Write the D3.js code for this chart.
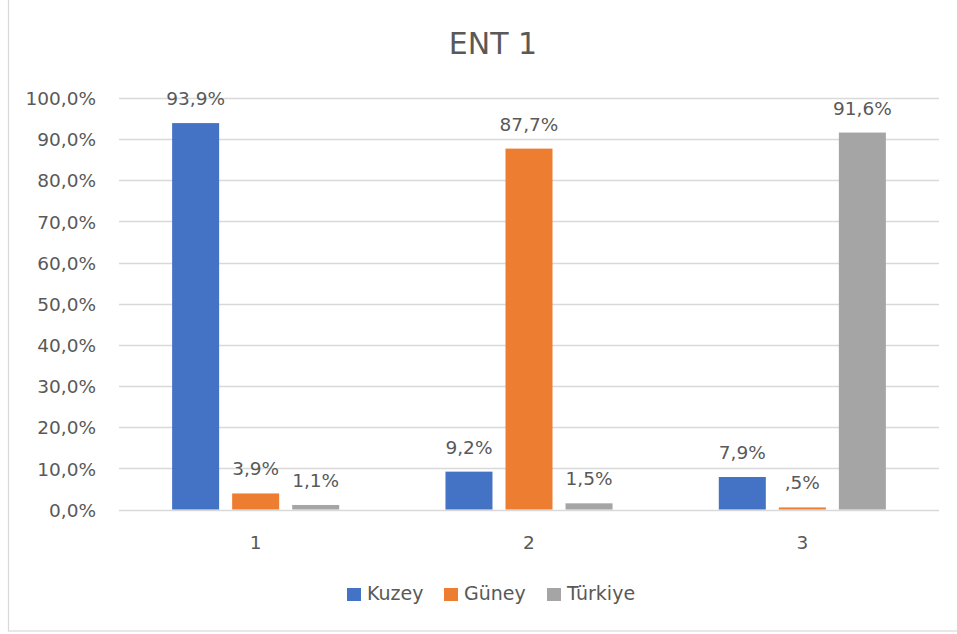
<!DOCTYPE html>
<html>
<head>
<meta charset="utf-8">
<script src="https://cdn.jsdelivr.net/npm/d3@7"></script>
<style>
  html, body { margin: 0; padding: 0; background: #fff; }
  svg { display: block; }
  text { font-family: "DejaVu Sans", sans-serif; fill: #595959; }
</style>
</head>
<body>
<svg id="chart" width="957" height="634"></svg>
<script>
// Chart data
const title = "ENT 1";
const categories = ["1", "2", "3"];
const seriesNames = ["Kuzey", "Güney", "Türkiye"];
const seriesColors = ["#4472C4", "#ED7D31", "#A5A5A5"];
const kuzey = [93.9, 9.2, 7.9];
const guney = [3.9, 87.7, 0.5];
const turkiye = [1.1, 1.5, 91.6];
const valueLabels = [
  ["93,9%", "9,2%", "7,9%"],
  ["3,9%", "87,7%", ",5%"],
  ["1,1%", "1,5%", "91,6%"]
];
const yTicks = [0, 10, 20, 30, 40, 50, 60, 70, 80, 90, 100];

const seriesValues = [kuzey, guney, turkiye];

const svg = d3.select("#chart");
const plot = { left: 119, right: 939, top: 98, bottom: 509.5 };

// Outer frame (runs past the right and top edges of the canvas)
svg.append("rect")
  .attr("x", 8.5).attr("y", -2)
  .attr("width", 960).attr("height", 633)
  .attr("fill", "#fff").attr("stroke", "#d9d9d9").attr("stroke-width", 1.2);

// Title
svg.append("text")
  .attr("x", 493).attr("y", 54)
  .attr("text-anchor", "middle")
  .style("font-size", "30px")
  .text(title);

const y = d3.scaleLinear().domain([0, 100]).range([plot.bottom, plot.top]);
const x0 = d3.scaleBand().domain(categories).range([plot.left, plot.right]).paddingInner(0).paddingOuter(0);
const x1 = d3.scaleBand().domain(seriesNames).range([0, x0.bandwidth()])
  .paddingInner(0.217).paddingOuter(0.885);

const fmt = v => d3.format(".1f")(v).replace(".", ",") + "%";

// Gridlines
svg.append("g").selectAll("line").data(yTicks).join("line")
  .attr("x1", plot.left).attr("x2", plot.right)
  .attr("y1", d => Math.round(y(d)) + 0.5).attr("y2", d => Math.round(y(d)) + 0.5)
  .attr("stroke", "#d9d9d9").attr("stroke-width", 1.3);

// Y axis labels
const yAxis = d3.axisLeft(y).tickValues(yTicks).tickFormat(fmt).tickSize(0).tickPadding(0);
const yg = svg.append("g").attr("transform", `translate(96,0)`).call(yAxis);
yg.select(".domain").remove();
yg.selectAll("text")
  .style("font-size", "18.5px")
  .style("font-family", "'DejaVu Sans', sans-serif")
  .attr("fill", "#595959")
  .attr("dy", "0.36em");

// X axis labels
const xAxis = d3.axisBottom(x0).tickSize(0).tickPadding(0);
const xg = svg.append("g").attr("transform", `translate(0,${plot.bottom})`).call(xAxis);
xg.select(".domain").remove();
xg.selectAll("text")
  .style("font-size", "18.5px")
  .style("font-family", "'DejaVu Sans', sans-serif")
  .attr("fill", "#595959")
  .attr("y", 39).attr("dy", 0);

// Bars and value labels
const groups = svg.append("g").selectAll("g").data(categories).join("g")
  .attr("transform", c => `translate(${x0(c)},0)`);

groups.each(function(c, ci) {
  const g = d3.select(this);
  seriesNames.forEach((s, si) => {
    const v = seriesValues[si][ci];
    g.append("rect")
      .attr("x", x1(s)).attr("width", x1.bandwidth())
      .attr("y", y(v)).attr("height", y(0) - y(v))
      .attr("fill", seriesColors[si]);
    g.append("text")
      .attr("x", x1(s) + x1.bandwidth() / 2)
      .attr("y", y(v) - 18)
      .attr("text-anchor", "middle")
      .style("font-size", "18.5px")
      .text(valueLabels[si][ci]);
  });
});

// Legend
const legendItems = [
  { name: seriesNames[0], color: seriesColors[0], x: 347 },
  { name: seriesNames[1], color: seriesColors[1], x: 444 },
  { name: seriesNames[2], color: seriesColors[2], x: 547 }
];
const lg = svg.append("g");
legendItems.forEach(it => {
  lg.append("rect").attr("x", it.x).attr("y", 588).attr("width", 14).attr("height", 13).attr("fill", it.color);
  lg.append("text").attr("x", it.x + 20).attr("y", 600).style("font-size", "19px").text(it.name);
});
</script>
</body>
</html>
